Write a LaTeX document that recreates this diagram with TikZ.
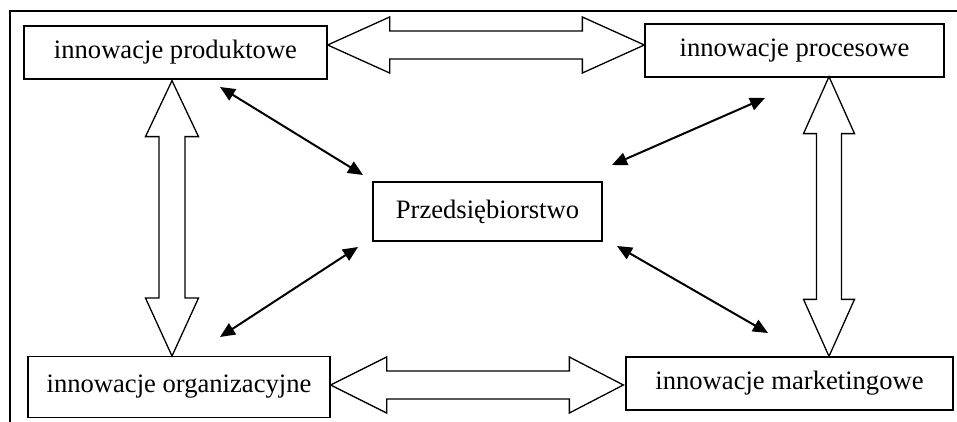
\documentclass[tikz,border=0pt]{standalone}
\usepackage{fontspec}
\setmainfont{Liberation Serif}
\usetikzlibrary{calc,arrows.meta}

\tikzset{
  box/.style={draw, line width=0.65pt, inner sep=0pt, minimum height=26.5pt,
    font=\fontsize{13.3}{16}\selectfont},
  fat/.style={draw, fill=white, line width=0.65pt, line join=miter},
  link/.style={line width=1pt, {Triangle[length=7.5pt,width=6.5pt]}-{Triangle[length=7.5pt,width=6.5pt]}}
}

\begin{document}
\begin{tikzpicture}[x=0.5pt, y=-0.5pt]
	\useasboundingbox (0,0) rectangle (957,422);
	% frame
	\draw[line width=0.7pt] (957,11) -- (10,11) -- (10,422);

	\node[box, minimum width=151.5pt] (prod) at (175.5,52.5) {innowacje produktowe};
	\node[box, minimum width=149.5pt] (proc) at (794.5,50.5) {innowacje procesowe};
	\node[box, minimum width=151pt, minimum height=30.3pt] (org) at (179,387) {innowacje organizacyjne};
	\node[box, minimum width=163.5pt] (mark) at (789.5,383.5) {innowacje marketingowe};
	\node[box, minimum width=114.5pt, minimum height=29.5pt] (firm) at (487.5,211.5) {Przedsiębiorstwo};

	% ends of the wide arrows
	\coordinate (pa) at ($(prod.east)+(0,-7.5)$);
	\coordinate (pb) at ($(proc.west)+(0,-5.5)$);
	\coordinate (oa) at ($(org.east)+(0,-2)$);
	\coordinate (ob) at ($(mark.west)+(-2,1.5)$);
	\coordinate (la) at ($(prod.south)+(-3.5,1)$);
	\coordinate (lb) at ($(org.north)+(-7,0)$);
	\coordinate (ra) at ($(proc.south)+(34.5,-1)$);
	\coordinate (rb) at ($(mark.north)+(39.5,0)$);

	\draw[fat] (pa) -- ++(62,-28) -- ++(0,14) -- ($(pb)+(-62,-14)$) -- ++(0,-14) -- (pb)
		-- ++(-62,28) -- ++(0,-14) -- ($(pa)+(62,14)$) -- ++(0,14) -- cycle;
	\draw[fat] (oa) -- ++(56,-28) -- ++(0,14) -- ($(ob)+(-54,-14)$) -- ++(0,-14) -- (ob)
		-- ++(-54,28) -- ++(0,-14) -- ($(oa)+(56,14)$) -- ++(0,14) -- cycle;
	\draw[fat] (la) -- ++(26.5,56) -- ++(-13.5,0) -- ($(lb)+(13,-58)$) -- ++(13.5,0) -- (lb)
		-- ++(-26.5,-58) -- ++(13.5,0) -- ($(la)+(-13,56)$) -- ++(-13.5,0) -- cycle;
	\draw[fat] (ra) -- ++(25.5,57) -- ++(-13,0) -- ($(rb)+(12.5,-57)$) -- ++(13,0) -- (rb)
		-- ++(-25.5,-57) -- ++(13,0) -- ($(ra)+(-12.5,57)$) -- ++(-13,0) -- cycle;

	% ends of the thin arrows
	\coordinate (p1) at (220,87);
	\coordinate (f1) at (363,175);
	\coordinate (q1) at (765,98);
	\coordinate (f2) at (612,165);
	\coordinate (o1) at (220,337);
	\coordinate (f3) at (358,247);
	\coordinate (m1) at (768,333);
	\coordinate (f4) at (617,246);

	\draw[link] (p1) -- (f1);
	\draw[link] (q1) -- (f2);
	\draw[link] (o1) -- (f3);
	\draw[link] (m1) -- (f4);
\end{tikzpicture}
\end{document}
